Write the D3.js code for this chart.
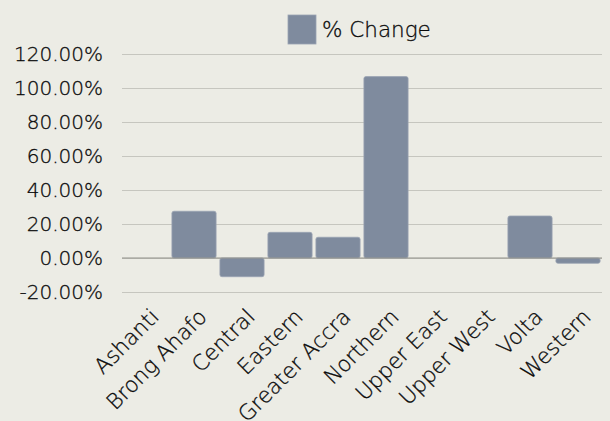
<!DOCTYPE html>
<html><head><meta charset="utf-8">
<script src="https://cdn.jsdelivr.net/npm/d3@7"></script>
<style>html,body{margin:0;padding:0;background:#ecece5;}svg{display:block;}</style>
</head><body>
<script>
const categories = ["Ashanti","Brong Ahafo","Central","Eastern","Greater Accra","Northern","Upper East","Upper West","Volta","Western"];
const values = [0, 27.5, -11.0, 15.1, 12.2, 106.7, 0, 0, 24.7, -3.1];
const yTicks = [-20, 0, 20, 40, 60, 80, 100, 120];
const seriesName = "% Change";

const W = 610, H = 421;
const svg = d3.select("body").append("svg").attr("width", W).attr("height", H);
svg.append("rect").attr("width", W).attr("height", H).attr("fill", "#ecece5");
const font = "'DejaVu Sans', sans-serif";
const fw = 200;
const ink = "#0a0a0a";

const x = d3.scaleBand().domain(categories).range([122, 602]).paddingInner(0.08).paddingOuter(0.04);
const y = d3.scaleLinear().domain([-20, 120]).range([292, 54]);

const yAxis = svg.append("g").attr("transform", "translate(122,0)")
  .call(d3.axisLeft(y).tickValues(yTicks).tickSize(-480).tickFormat(d => d.toFixed(2) + "%"));
yAxis.select(".domain").remove();
yAxis.selectAll(".tick line").attr("stroke", "#c6c6bf").attr("stroke-width", 1.2);
yAxis.selectAll(".tick text").attr("x", -19).attr("font-size", 20).attr("font-family", font)
  .attr("font-weight", fw).attr("fill", ink).attr("stroke", ink).attr("stroke-width", 0.3);

svg.append("g").selectAll("rect").data(categories).join("rect")
  .attr("x", d => x(d))
  .attr("width", x.bandwidth())
  .attr("y", (d, i) => y(Math.max(0, values[i])))
  .attr("height", (d, i) => Math.abs(y(values[i]) - y(0)))
  .attr("rx", 2)
  .attr("fill", "#7f8b9e")
  .attr("stroke", "#9aa3b2").attr("stroke-width", 0.8);

svg.append("line").attr("x1", 122).attr("x2", 602).attr("y1", y(0)).attr("y2", y(0))
  .attr("stroke", "#8f8f8a").attr("stroke-width", 1.2);

const xAxis = svg.append("g").attr("transform", "translate(0,292)")
  .call(d3.axisBottom(x).tickSize(0));
xAxis.select(".domain").remove();
xAxis.selectAll(".tick text")
  .attr("font-size", 21.5).attr("font-family", font).attr("font-weight", fw)
  .attr("fill", ink).attr("stroke", ink).attr("stroke-width", 0.3)
  .attr("text-anchor", "end").attr("dy", 0)
  .attr("transform", "translate(12,24) rotate(-45)");

const lg = svg.append("g");
lg.append("rect").attr("x", 288).attr("y", 15).attr("width", 28).attr("height", 29)
  .attr("fill", "#7f8b9e").attr("stroke", "#9aa3b2").attr("stroke-width", 0.8);
lg.append("text").attr("x", 322).attr("y", 37).attr("font-size", 21.5).attr("font-family", font)
  .attr("font-weight", fw).attr("fill", ink).attr("stroke", ink).attr("stroke-width", 0.3).text(seriesName);
</script>
</body></html>
